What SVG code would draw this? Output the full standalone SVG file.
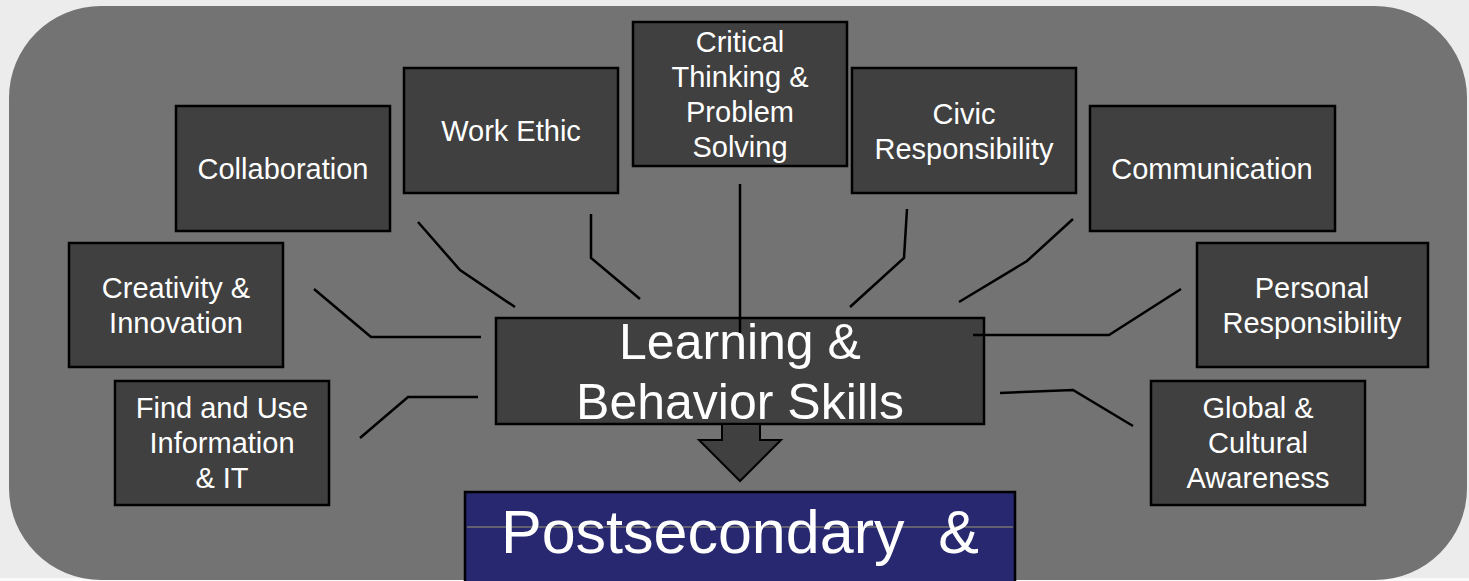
<svg xmlns="http://www.w3.org/2000/svg" width="1469" height="581" viewBox="0 0 1469 581">
  <style>
    .node rect { fill: #404040; stroke: #000; stroke-width: 2.5; }
    .node text { fill: #fff; font-family: "Liberation Sans", Arial, sans-serif; font-size: 29px; text-anchor: middle; }
    .conn { fill: none; stroke: #000; stroke-width: 2.5; }
  </style>
  <rect x="0" y="0" width="1469" height="581" fill="#ececec"/>
  <rect x="0" y="578" width="1469" height="3" fill="#fafafa"/>
  <rect id="panel" x="9" y="6" width="1458" height="574" rx="92" ry="92" fill="#737373"/>

  <g id="n-collaboration" class="node">
    <rect x="176" y="106" width="214" height="125"/>
    <text x="283" y="179">Collaboration</text>
  </g>
  <g id="n-workethic" class="node">
    <rect x="404" y="68" width="214" height="125"/>
    <text x="511" y="141">Work Ethic</text>
  </g>
  <g id="n-critical" class="node">
    <rect x="633" y="22" width="214" height="144"/>
    <text x="740" y="52">Critical</text>
    <text x="740" y="87">Thinking &amp;</text>
    <text x="740" y="122">Problem</text>
    <text x="740" y="157">Solving</text>
  </g>
  <g id="n-civic" class="node">
    <rect x="852" y="68" width="224" height="125"/>
    <text x="964" y="124">Civic</text>
    <text x="964" y="159">Responsibility</text>
  </g>
  <g id="n-communication" class="node">
    <rect x="1090" y="106" width="245" height="125"/>
    <text x="1212" y="179">Communication</text>
  </g>
  <g id="n-creativity" class="node">
    <rect x="69" y="243" width="214" height="124"/>
    <text x="176" y="298">Creativity &amp;</text>
    <text x="176" y="333">Innovation</text>
  </g>
  <g id="n-personal" class="node">
    <rect x="1197" y="243" width="231" height="124"/>
    <text x="1312" y="298">Personal</text>
    <text x="1312" y="333">Responsibility</text>
  </g>
  <g id="n-findinfo" class="node">
    <rect x="115" y="381" width="214" height="124"/>
    <text x="222" y="418">Find and Use</text>
    <text x="222" y="453">Information</text>
    <text x="222" y="488">&amp; IT</text>
  </g>
  <g id="n-global" class="node">
    <rect x="1151" y="381" width="214" height="124"/>
    <text x="1258" y="418">Global &amp;</text>
    <text x="1258" y="453">Cultural</text>
    <text x="1258" y="488">Awareness</text>
  </g>

  <g id="n-learning" class="node">
    <rect x="496" y="318" width="488" height="106"/>
    <text x="740" y="359" style="font-size:50px">Learning &amp;</text>
    <text x="740" y="419" style="font-size:50px">Behavior Skills</text>
  </g>

  <g id="connectors">
    <polyline class="conn" points="314,289 371,337 481,337"/>
    <polyline class="conn" points="418,222 460,270 515,307"/>
    <polyline class="conn" points="591,214 591,258 640,299"/>
    <polyline class="conn" points="740,184 740,333"/>
    <polyline class="conn" points="907,209 904,258 850,307"/>
    <polyline class="conn" points="1073,219 1027,261 959,302"/>
    <polyline class="conn" points="1181,289 1109,335 973,335"/>
    <polyline class="conn" points="1000,393 1073,390 1133,426"/>
    <polyline class="conn" points="360,438 408,397 478,397"/>
    <polygon id="arrow" points="722,424 760,424 760,440 781,440 740,481 699,440 722,440" fill="#404040" stroke="#000" stroke-width="2"/>
  </g>

  <g id="n-postsecondary">
    <rect x="465" y="492" width="550" height="110" fill="#282870" stroke="#000" stroke-width="2.5"/>
    <line x1="467" y1="527" x2="1013" y2="527" stroke="#9a9870" stroke-width="1"/>
    <text x="740" y="553" xml:space="preserve" fill="#fff" font-family="Liberation Sans, Arial, sans-serif" font-size="61" text-anchor="middle">Postsecondary  &amp;</text>
  </g>
</svg>
